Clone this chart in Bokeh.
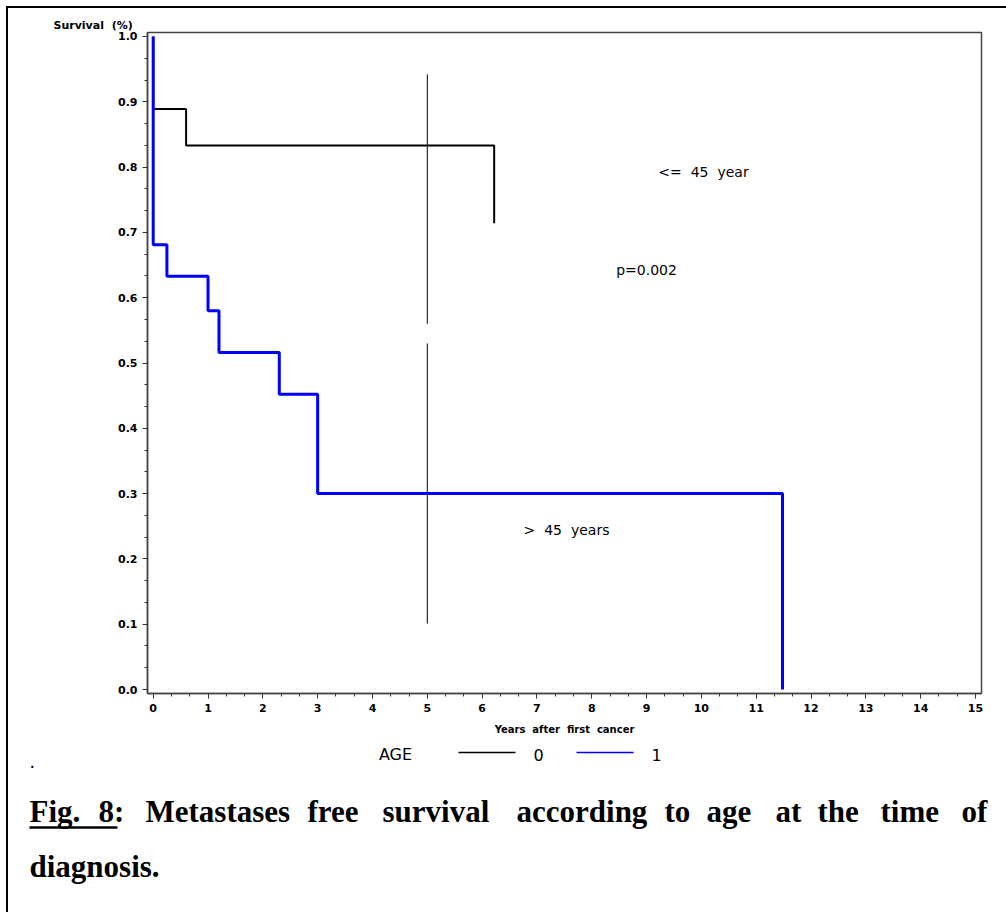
from bokeh.plotting import figure
from bokeh.layouts import column
from bokeh.models import Range1d, FixedTicker, NumeralTickFormatter, Label
from bokeh.core.properties import value
from bokeh.embed import file_html
from bokeh.resources import INLINE

# ---------------- data ----------------
age0_time = [0.0, 0.0, 0.6, 6.22]
age0_surv = [1.0, 0.889, 0.833, 0.714]
age1_time = [0.0, 0.0, 0.25, 1.0, 1.2, 2.3, 3.0, 11.48]
age1_surv = [1.0, 0.681, 0.633, 0.580, 0.516, 0.452, 0.300, 0.0]
ref_time = [5.0, 5.0]
ref_bottom = [0.560, 0.101]
ref_top = [0.942, 0.530]
x_ticks = list(range(0, 16))
y_ticks = [0.0, 0.1, 0.2, 0.3, 0.4, 0.5, 0.6, 0.7, 0.8, 0.9, 1.0]
series_colors = ["black", "#0000ff"]
legend_title = "AGE"
legend_labels = ["0", "1"]
caption_words = ["Fig.", "8:", "Metastases", "free", "survival", "according", "to", "age",
                 "at", "the", "time", "of", "diagnosis."]

NB = "\u00a0"
W, H = 1006, 912
M = 8                 # outer margin + border of the page frame
SPLIT = 742           # page y where the chart canvas ends
FL, FR, FT, FB = 147, 981, 32, 693          # chart frame edges on the page
XS, XE = -0.104, 15.11
YS, YE = -0.0061, 1.0061

p = figure(width=W - M, height=SPLIT - M, output_backend="svg", toolbar_location=None,
           x_range=Range1d(XS, XE), y_range=Range1d(YS, YE),
           min_border_left=FL - M, min_border_right=W - FR,
           min_border_top=FT - M, min_border_bottom=SPLIT - FB)
p.xgrid.visible = False
p.ygrid.visible = False
p.outline_line_color = "#444444"
p.outline_line_width = 1.5
p.background_fill_color = "white"
p.border_fill_color = "white"

# y axis title (horizontal, above the axis)
p.title.text = "Survival" + NB * 2 + "(%)"
p.title.align = "left"
p.title.offset = 53 - FL
p.title.standoff = 2
p.title.text_font = "DejaVu Sans"
p.title.text_font_style = "bold"
p.title.text_font_size = "11px"
p.title.text_color = "black"

tick_font = "DejaVu Sans"
minor_x = [i / 3 for i in range(0, 46) if i % 3]
minor_y = [i / 30 for i in range(0, 31) if i % 3]
p.xaxis.ticker = FixedTicker(ticks=x_ticks, minor_ticks=minor_x)
p.yaxis.ticker = FixedTicker(ticks=y_ticks, minor_ticks=minor_y)
p.yaxis.formatter = NumeralTickFormatter(format="0.0")
for ax in (p.xaxis[0], p.yaxis[0]):
    ax.axis_line_color = "#444444"
    ax.axis_line_width = 1.5
    ax.major_tick_line_color = "#333333"
    ax.minor_tick_line_color = "#333333"
    ax.major_tick_in = 0
    ax.major_tick_out = 5
    ax.minor_tick_in = 0
    ax.minor_tick_out = 3
    ax.major_label_text_font = tick_font
    ax.major_label_text_font_style = "bold"
    ax.major_label_text_font_size = "11px"
    ax.major_label_text_color = "black"
p.xaxis.major_label_standoff = 5
p.yaxis.major_label_standoff = 5
p.xaxis.axis_label = "Years" + NB * 2 + "after" + NB * 2 + "first" + NB * 2 + "cancer"
p.xaxis.axis_label_text_font = tick_font
p.xaxis.axis_label_text_font_style = "bold"
p.xaxis.axis_label_text_font_size = "10px"
p.xaxis.axis_label_standoff = 9
p.xaxis.axis_label_text_color = "black"

# reference line at 5 years
p.segment(x0=ref_time, y0=ref_bottom, x1=ref_time, y1=ref_top, line_color="black", line_width=1)

# KM curves
p.step(age0_time, age0_surv, mode="after", line_color=series_colors[0], line_width=2)
p.step(age1_time, age1_surv, mode="after", line_color=series_colors[1], line_width=3)

# in-plot annotations
def dx(px):
    return XS + (px - FL) * (XE - XS) / (FR - FL)

def dy(py):
    return YE - (py - FT) * (YE - YS) / (FB - FT)

for txt, px, py in [("<=" + NB * 2 + "45" + NB * 2 + "year", 703, 171),
                    ("p=0.002", 646, 269),
                    (">" + NB * 2 + "45" + NB * 2 + "years", 566, 529)]:
    p.add_layout(Label(x=dx(px), y=dy(py), text=txt, text_font="DejaVu Sans", text_font_size="14px",
                       text_align="center", text_baseline="middle", text_color="black"))

# ---------------- lower canvas: legend and caption (page pixel coordinates) ----------------
q = figure(width=W - M, height=H - SPLIT, output_backend="svg", toolbar_location=None,
           x_range=Range1d(M, W), y_range=Range1d(H, SPLIT),
           x_axis_location=None, y_axis_location=None,
           min_border_left=0, min_border_right=0, min_border_top=0, min_border_bottom=0)
q.xgrid.visible = False
q.ygrid.visible = False
q.outline_line_color = None
q.background_fill_color = "white"
q.border_fill_color = "white"

for fig in (p, q):
    try:
        fig.frame_align = False
    except Exception:
        pass

# legend
q.text(x=[395], y=[754], text=[legend_title], text_font=value("DejaVu Sans"), text_font_size="16px",
       text_align="center", text_baseline="middle", text_color="black")
q.segment(x0=[458, 576], y0=[752, 752], x1=[515, 633], y1=[752, 752],
          line_color=series_colors, line_width=1.5)
q.text(x=[538, 656], y=[754, 754], text=legend_labels, text_font=value("DejaVu Sans"),
       text_font_size="16px", text_align="center", text_baseline="middle", text_color="black")

# small dot
q.text(x=[30], y=[762], text=["."], text_font=value("Liberation Serif"), text_font_style="bold",
       text_font_size="14px", text_align="left", text_baseline="alphabetic", text_color="black")

# caption (justified first line)
cap_x = [29, 98, 145, 307, 382, 516, 664, 706, 775, 817, 880, 961, 29]
cap_y = [811] * 12 + [866]
q.text(x=cap_x, y=cap_y, text=caption_words, text_font=value("Liberation Serif"),
       text_font_style="bold", text_font_size="31px", text_align="left",
       text_baseline="alphabetic", text_color="black")
q.segment(x0=[29], y0=[827], x1=[117], y1=[827], line_color="black", line_width=2.5)

layout = column(p, q, margin=(6, 0, 0, 6),
                styles={"border-left": "2px solid black", "border-top": "2px solid black"})

open("out.html", "w").write(file_html(layout, INLINE))
